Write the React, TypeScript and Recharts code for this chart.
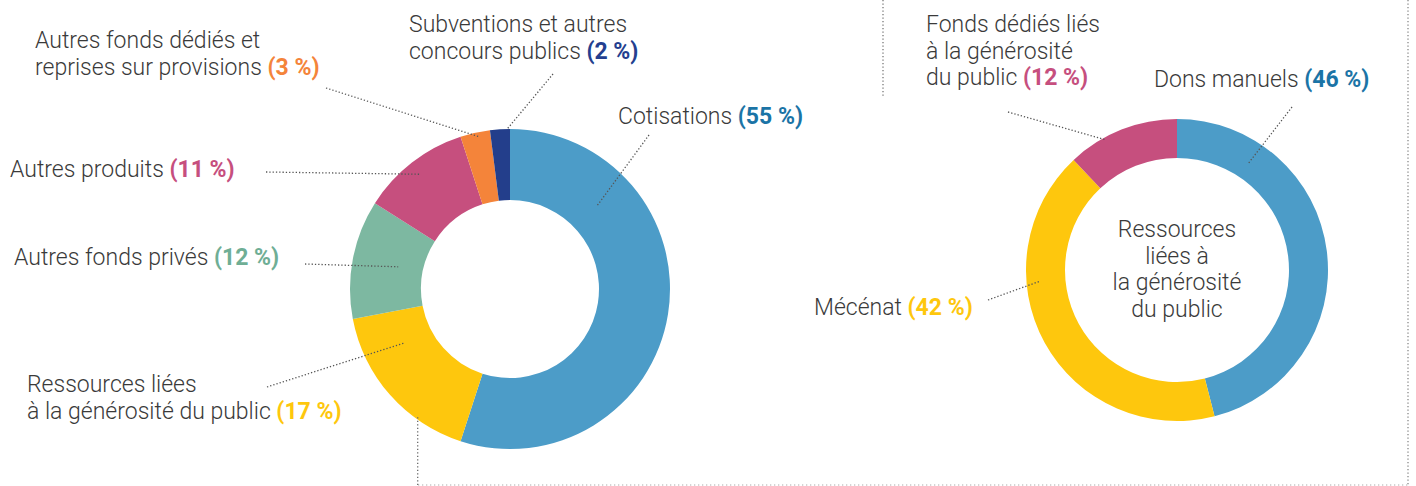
import React from 'react';
import { PieChart, Pie, Cell } from 'recharts';

// Répartition des ressources (gauche) et détail de la générosité du public (droite)
const leftNames = [
  'Cotisations',
  'Ressources liées\nà la générosité du public',
  'Autres fonds privés',
  'Autres produits',
  'Autres fonds dédiés et\nreprises sur provisions',
  'Subventions et autres\nconcours publics',
];
const leftValues = [55, 17, 12, 11, 3, 2];

const rightNames = ['Dons manuels', 'Mécénat', 'Fonds dédiés liés\nà la générosité\ndu public'];
const rightValues = [46, 42, 12];

const centerLines = ['Ressources', 'liées à', 'la générosité', 'du public'];

const leftColors = ['#4c9cc8', '#fec70d', '#7db8a1', '#c64f7e', '#f4843a', '#233e8b'];
const leftPctColors = ['#1b74a6', '#fec70d', '#6fae95', '#c64f7e', '#f4843a', '#243f8f'];
const rightColors = ['#4c9cc8', '#fec70d', '#c64f7e'];
const rightPctColors = ['#1b74a6', '#fec70d', '#c64f7e'];

// t = position along the slice, r = radius of the leader anchor,
// (lx, ly) = outer end of the leader, (tx, ty) = first baseline of the label
const leftLayout = [
  { t: 0.234, r: 120, lx: 649, ly: 135, tx: 618, ty: 124 },
  { t: 0.735, r: 119, lx: 267, ly: 387, tx: 27, ty: 392 },
  { t: 0.51, r: 114, lx: 305, ly: 264, tx: 14, ty: 265 },
  { t: 0.49, r: 146, lx: 266, ly: 172, tx: 10, ty: 177 },
  { t: 0.63, r: 155, lx: 326, ly: 88, tx: 35, ty: 48 },
  { t: 0.86, r: 160, lx: 553, ly: 74, tx: 409, ty: 32 },
];
const rightLayout = [
  { t: 0.204, r: 128, lx: 1292, ly: 107, tx: 1154, ty: 87 },
  { t: 0.66, r: 137, lx: 988, ly: 300, tx: 814, ty: 315 },
  { t: 0.33, r: 149, lx: 1008, ly: 112, tx: 926, ty: 32 },
];

const leftData = leftNames.map((name, i) => ({ name, value: leftValues[i] }));
const rightData = rightNames.map((name, i) => ({ name, value: rightValues[i] }));

const RADIAN = Math.PI / 180;
const FONT = 'Roboto, sans-serif';
const FONT_SIZE = 23;
const LINE_H = 26.5;

const makeLabel =
  (layout: any[], pctColors: string[], opts: { connector?: number; center?: string[] } = {}) =>
  (props: any) => {
    const { cx, cy, startAngle, endAngle, index, payload, value } = props;
    const l = layout[index];
    const polar = (t: number, r: number) => {
      const a = startAngle + (endAngle - startAngle) * t;
      return [cx + r * Math.cos(-a * RADIAN), cy + r * Math.sin(-a * RADIAN)];
    };
    const [ax, ay] = polar(l.t, l.r);
    const lines: string[] = (payload?.name ?? props.name).split('\n');
    let extra = null;
    if (opts.connector === index) {
      // dotted link from the "générosité du public" slice towards the detail frame
      const [bx, by] = polar(0.29, 158);
      extra = <line x1={bx} y1={by} x2={bx} y2={485} stroke="#6a6a6a" strokeWidth={1.3} strokeDasharray="1.3 2.2" />;
    }
    if (opts.center && index === 0) {
      const top = cy - 33;
      extra = (
        <text x={cx} y={top} textAnchor="middle" fontFamily={FONT} fontSize={FONT_SIZE} fontWeight={300} fill="#3a3a3a">
          {opts.center.map((s, i) => (
            <tspan key={i} x={cx} y={top + i * LINE_H}>{s}</tspan>
          ))}
        </text>
      );
    }
    return (
      <g key={`lab-${index}`}>
        {extra}
        <line x1={l.lx} y1={l.ly} x2={ax} y2={ay} stroke="#555" strokeWidth={1.3} strokeDasharray="1.3 2" />
        <text x={l.tx} y={l.ty} fontFamily={FONT} fontSize={FONT_SIZE} fontWeight={300} fill="#3a3a3a">
          {lines.map((s, i) => (
            <tspan key={i} x={l.tx} y={l.ty + i * LINE_H}>
              {i === lines.length - 1 ? s + '\u00a0' : s}
              {i === lines.length - 1 ? (
                <tspan fontWeight={700} fill={pctColors[index]}>{`(${value}\u00a0%)`}</tspan>
              ) : null}
            </tspan>
          ))}
        </text>
      </g>
    );
  };

const App: React.FC = () => {
  return (
    <div style={{ position: 'absolute', left: 0, top: 0, width: 1416, height: 486, background: '#fff' }}>
      <svg width={1416} height={486} style={{ position: 'absolute', left: 0, top: 0 }}>
        <line x1={883} y1={0} x2={883} y2={98} stroke="#777" strokeWidth={1.3} strokeDasharray="1.3 2.2" />
        <line x1={1408} y1={0} x2={1408} y2={485} stroke="#888" strokeWidth={1.3} strokeDasharray="1.3 2.2" />
        <line x1={418} y1={485} x2={1408} y2={485} stroke="#c8c8c8" strokeWidth={1.3} strokeDasharray="1.3 2.7" />
      </svg>
      <div style={{ position: 'absolute', left: 0, top: 0 }}>
        <PieChart width={1416} height={486} margin={{ top: 0, right: 0, bottom: 0, left: 0 }}>
          <Pie
            data={leftData}
            dataKey="value"
            nameKey="name"
            cx={510}
            cy={289}
            innerRadius={89}
            outerRadius={160}
            startAngle={90}
            endAngle={-270}
            stroke="none"
            paddingAngle={0}
            labelLine={false}
            label={makeLabel(leftLayout, leftPctColors, { connector: 1 })}
            isAnimationActive={false}
          >
            {leftData.map((d, i) => (
              <Cell key={d.name} fill={leftColors[i]} />
            ))}
          </Pie>
          <Pie
            data={rightData}
            dataKey="value"
            nameKey="name"
            cx={1177}
            cy={270}
            innerRadius={112}
            outerRadius={151}
            startAngle={90}
            endAngle={-270}
            stroke="none"
            paddingAngle={0}
            labelLine={false}
            label={makeLabel(rightLayout, rightPctColors, { center: centerLines })}
            isAnimationActive={false}
          >
            {rightData.map((d, i) => (
              <Cell key={d.name} fill={rightColors[i]} />
            ))}
          </Pie>
        </PieChart>
      </div>
    </div>
  );
};

export default App;
